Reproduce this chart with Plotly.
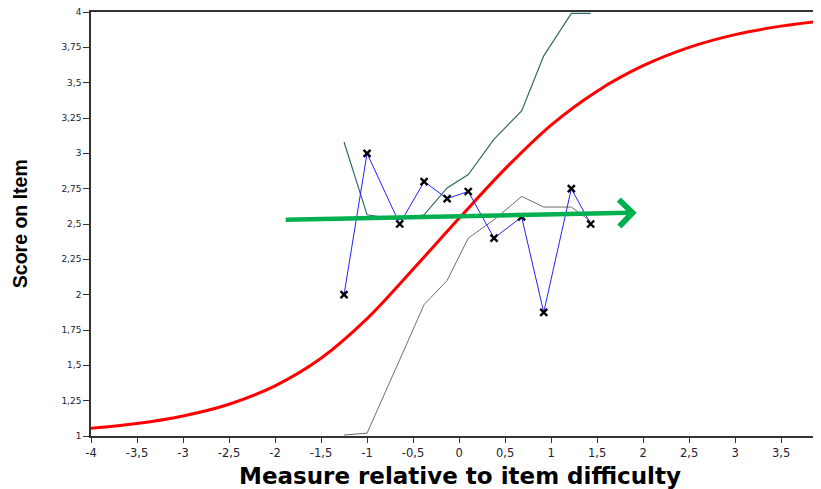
import plotly.graph_objects as go

# Model expected score curve
model_x = [-4, -3.5, -3, -2.5, -2, -1.5, -1, -0.5, 0, 0.5, 1, 1.5, 2, 2.5, 3, 3.5, 4]
model_y = [1.054, 1.088, 1.142, 1.225, 1.355, 1.55, 1.83, 2.18, 2.54, 2.89, 3.20, 3.44, 3.62, 3.75, 3.84, 3.90, 3.94]

# Observed average scores
obs_x = [-1.25, -1.0, -0.645, -0.38, -0.13, 0.10, 0.38, 0.68, 0.92, 1.22, 1.43]
obs_y = [2.0, 3.0, 2.5, 2.8, 2.68, 2.73, 2.4, 2.55, 1.875, 2.75, 2.5]

# Upper and lower confidence bands
upper_y = [3.08, 2.565, 2.53, 2.565, 2.755, 2.85, 3.10, 3.30, 3.69, 3.99, 3.99]
lower_y = [1.007, 1.02, 1.54, 1.93, 2.10, 2.40, 2.53, 2.695, 2.62, 2.62, 2.52]

# Trend arrow (tail -> tip)
arrow_x = [-1.9, 1.93]
arrow_y = [2.53, 2.58]

x_ticks = [-4, -3.5, -3, -2.5, -2, -1.5, -1, -0.5, 0, 0.5, 1, 1.5, 2, 2.5, 3, 3.5, 4]
y_ticks = [1, 1.25, 1.5, 1.75, 2, 2.25, 2.5, 2.75, 3, 3.25, 3.5, 3.75, 4]

x_title = "Measure relative to item difficulty"
y_title = "Score on Item"


def fmt(v):
    return ("%g" % v).replace(".", ",")


fig = go.Figure()
fig.add_trace(go.Scatter(x=model_x, y=model_y, mode="lines",
                         line=dict(color="#ff0000", width=3, shape="spline", smoothing=1.0),
                         hoverinfo="skip"))
fig.add_trace(go.Scatter(x=obs_x, y=upper_y, mode="lines",
                         line=dict(color="#2f6b66", width=1.2)))
fig.add_trace(go.Scatter(x=obs_x, y=lower_y, mode="lines",
                         line=dict(color="#6e6e6e", width=1)))
fig.add_trace(go.Scatter(x=obs_x, y=obs_y, mode="lines+markers",
                         line=dict(color="#2222ff", width=1),
                         marker=dict(symbol="x-thin", size=7, color="black",
                                     line=dict(color="black", width=2.4))))

fig.add_annotation(x=arrow_x[1], y=arrow_y[1], ax=arrow_x[0], ay=arrow_y[0],
                   xref="x", yref="y", axref="x", ayref="y",
                   showarrow=True, arrowhead=4, arrowsize=1.15, arrowwidth=4.5,
                   arrowcolor="#00b050", text="")

fig.add_annotation(text="<b>" + x_title + "</b>", xref="paper", yref="paper",
                   x=0.5, y=-0.095, xanchor="center", yanchor="middle",
                   showarrow=False,
                   font=dict(family="DejaVu Sans", size=23, color="black"))
fig.add_annotation(text="<b>" + y_title + "</b>", xref="paper", yref="paper",
                   x=-0.096, y=0.5, xanchor="center", yanchor="middle",
                   textangle=-90, showarrow=False,
                   font=dict(family="Liberation Sans, Arial", size=19.5, color="black"))

fig.update_layout(
    width=821, height=489,
    margin=dict(l=83, r=0, t=4, b=61),
    paper_bgcolor="white", plot_bgcolor="white",
    showlegend=False,
    xaxis=dict(range=[-4, 4.02], tickvals=x_ticks,
               ticktext=[fmt(v) for v in x_ticks],
               showgrid=False, zeroline=False, automargin=False,
               showline=True, linecolor="#333333", linewidth=1.5, mirror=True,
               ticks="outside", ticklen=5, tickcolor="#333333", tickwidth=1.2,
               ticklabeloverflow="allow",
               tickfont=dict(family="DejaVu Sans", size=11.5, color="#222233")),
    yaxis=dict(range=[1, 4], tickvals=y_ticks,
               ticktext=[fmt(v) for v in y_ticks],
               showgrid=False, zeroline=False, automargin=False,
               showline=True, linecolor="#333333", linewidth=1.5,
               ticks="outside", ticklen=6, tickcolor="#333333", tickwidth=1.2,
               ticklabeloverflow="allow",
               tickfont=dict(family="DejaVu Sans", size=9, color="#222233")),
)

fig.write_html("out.html")
